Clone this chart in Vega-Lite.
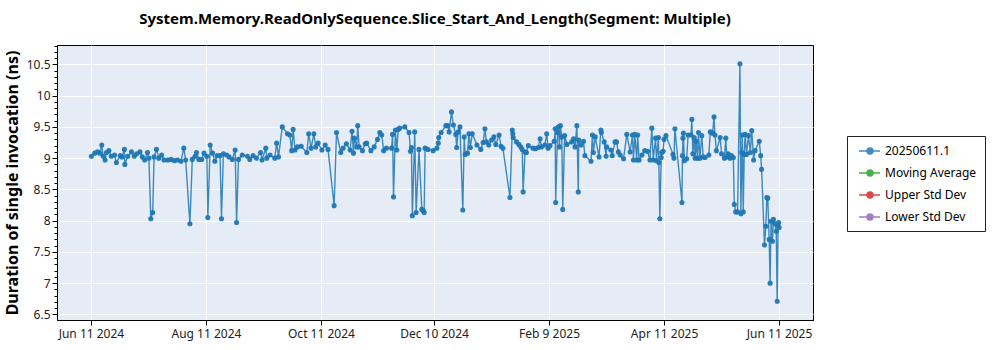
{
  "$schema": "https://vega.github.io/schema/vega-lite/v6.json",
  "width": 756,
  "height": 275,
  "autosize": {"type": "none"},
  "padding": {"left": 57, "top": 45, "right": 187, "bottom": 30},
  "background": "#ffffff",
  "title": {
    "text": "System.Memory.ReadOnlySequence.Slice_Start_And_Length(Segment: Multiple)",
    "anchor": "middle",
    "frame": "group",
    "offset": 18,
    "font": "Noto Sans",
    "fontSize": 15,
    "fontWeight": "bold",
    "color": "#000000"
  },
  "data": {
    "values": [
      {"date": "2024-06-11T06:00Z", "value": 9.03, "series": "20250611.1"},
      {"date": "2024-06-13T00:00Z", "value": 9.08, "series": "20250611.1"},
      {"date": "2024-06-14T12:00Z", "value": 9.10, "series": "20250611.1"},
      {"date": "2024-06-15T18:00Z", "value": 9.08, "series": "20250611.1"},
      {"date": "2024-06-16T18:00Z", "value": 9.21, "series": "20250611.1"},
      {"date": "2024-06-17T12:00Z", "value": 9.03, "series": "20250611.1"},
      {"date": "2024-06-18T12:00Z", "value": 8.97, "series": "20250611.1"},
      {"date": "2024-06-19T06:00Z", "value": 9.09, "series": "20250611.1"},
      {"date": "2024-06-20T12:00Z", "value": 9.12, "series": "20250611.1"},
      {"date": "2024-06-21T18:00Z", "value": 9.03, "series": "20250611.1"},
      {"date": "2024-06-23T12:00Z", "value": 9.05, "series": "20250611.1"},
      {"date": "2024-06-24T12:00Z", "value": 8.93, "series": "20250611.1"},
      {"date": "2024-06-26T12:00Z", "value": 9.04, "series": "20250611.1"},
      {"date": "2024-06-27T12:00Z", "value": 9.02, "series": "20250611.1"},
      {"date": "2024-06-28T18:00Z", "value": 9.14, "series": "20250611.1"},
      {"date": "2024-06-29T00:00Z", "value": 8.90, "series": "20250611.1"},
      {"date": "2024-06-30T12:00Z", "value": 9.03, "series": "20250611.1"},
      {"date": "2024-07-02T12:00Z", "value": 9.10, "series": "20250611.1"},
      {"date": "2024-07-04T00:00Z", "value": 9.03, "series": "20250611.1"},
      {"date": "2024-07-05T06:00Z", "value": 9.07, "series": "20250611.1"},
      {"date": "2024-07-07T00:00Z", "value": 9.10, "series": "20250611.1"},
      {"date": "2024-07-08T06:00Z", "value": 9.02, "series": "20250611.1"},
      {"date": "2024-07-09T12:00Z", "value": 8.97, "series": "20250611.1"},
      {"date": "2024-07-11T00:00Z", "value": 9.09, "series": "20250611.1"},
      {"date": "2024-07-11T18:00Z", "value": 9.00, "series": "20250611.1"},
      {"date": "2024-07-12T18:00Z", "value": 8.03, "series": "20250611.1"},
      {"date": "2024-07-13T18:00Z", "value": 8.13, "series": "20250611.1"},
      {"date": "2024-07-14T12:00Z", "value": 9.02, "series": "20250611.1"},
      {"date": "2024-07-15T18:00Z", "value": 9.14, "series": "20250611.1"},
      {"date": "2024-07-17T00:00Z", "value": 9.00, "series": "20250611.1"},
      {"date": "2024-07-18T12:00Z", "value": 9.05, "series": "20250611.1"},
      {"date": "2024-07-19T18:00Z", "value": 8.97, "series": "20250611.1"},
      {"date": "2024-07-21T18:00Z", "value": 8.97, "series": "20250611.1"},
      {"date": "2024-07-23T12:00Z", "value": 8.98, "series": "20250611.1"},
      {"date": "2024-07-25T06:00Z", "value": 8.96, "series": "20250611.1"},
      {"date": "2024-07-27T00:00Z", "value": 8.97, "series": "20250611.1"},
      {"date": "2024-07-28T18:00Z", "value": 8.95, "series": "20250611.1"},
      {"date": "2024-07-30T06:00Z", "value": 9.16, "series": "20250611.1"},
      {"date": "2024-07-31T06:00Z", "value": 8.97, "series": "20250611.1"},
      {"date": "2024-08-02T12:00Z", "value": 7.95, "series": "20250611.1"},
      {"date": "2024-08-03T18:00Z", "value": 8.98, "series": "20250611.1"},
      {"date": "2024-08-05T06:00Z", "value": 9.03, "series": "20250611.1"},
      {"date": "2024-08-06T00:00Z", "value": 9.09, "series": "20250611.1"},
      {"date": "2024-08-07T06:00Z", "value": 8.98, "series": "20250611.1"},
      {"date": "2024-08-08T18:00Z", "value": 8.98, "series": "20250611.1"},
      {"date": "2024-08-10T00:00Z", "value": 9.08, "series": "20250611.1"},
      {"date": "2024-08-11T12:00Z", "value": 9.03, "series": "20250611.1"},
      {"date": "2024-08-12T00:00Z", "value": 8.05, "series": "20250611.1"},
      {"date": "2024-08-13T06:00Z", "value": 9.21, "series": "20250611.1"},
      {"date": "2024-08-14T12:00Z", "value": 9.08, "series": "20250611.1"},
      {"date": "2024-08-15T18:00Z", "value": 8.95, "series": "20250611.1"},
      {"date": "2024-08-17T00:00Z", "value": 9.04, "series": "20250611.1"},
      {"date": "2024-08-18T12:00Z", "value": 9.04, "series": "20250611.1"},
      {"date": "2024-08-19T06:00Z", "value": 8.03, "series": "20250611.1"},
      {"date": "2024-08-20T06:00Z", "value": 9.07, "series": "20250611.1"},
      {"date": "2024-08-22T00:00Z", "value": 9.05, "series": "20250611.1"},
      {"date": "2024-08-23T06:00Z", "value": 9.02, "series": "20250611.1"},
      {"date": "2024-08-25T00:00Z", "value": 8.98, "series": "20250611.1"},
      {"date": "2024-08-26T12:00Z", "value": 9.13, "series": "20250611.1"},
      {"date": "2024-08-27T06:00Z", "value": 7.97, "series": "20250611.1"},
      {"date": "2024-08-28T06:00Z", "value": 8.98, "series": "20250611.1"},
      {"date": "2024-08-30T06:00Z", "value": 9.05, "series": "20250611.1"},
      {"date": "2024-09-02T00:00Z", "value": 9.03, "series": "20250611.1"},
      {"date": "2024-09-03T06:00Z", "value": 8.98, "series": "20250611.1"},
      {"date": "2024-09-05T00:00Z", "value": 9.04, "series": "20250611.1"},
      {"date": "2024-09-06T18:00Z", "value": 9.00, "series": "20250611.1"},
      {"date": "2024-09-09T00:00Z", "value": 9.09, "series": "20250611.1"},
      {"date": "2024-09-09T18:00Z", "value": 8.97, "series": "20250611.1"},
      {"date": "2024-09-11T18:00Z", "value": 9.16, "series": "20250611.1"},
      {"date": "2024-09-12T06:00Z", "value": 9.00, "series": "20250611.1"},
      {"date": "2024-09-14T00:00Z", "value": 9.05, "series": "20250611.1"},
      {"date": "2024-09-16T12:00Z", "value": 9.00, "series": "20250611.1"},
      {"date": "2024-09-17T12:00Z", "value": 9.24, "series": "20250611.1"},
      {"date": "2024-09-18T12:00Z", "value": 9.02, "series": "20250611.1"},
      {"date": "2024-09-20T12:00Z", "value": 9.50, "series": "20250611.1"},
      {"date": "2024-09-23T06:00Z", "value": 9.39, "series": "20250611.1"},
      {"date": "2024-09-24T12:00Z", "value": 9.37, "series": "20250611.1"},
      {"date": "2024-09-25T12:00Z", "value": 9.12, "series": "20250611.1"},
      {"date": "2024-09-26T06:00Z", "value": 9.46, "series": "20250611.1"},
      {"date": "2024-09-27T06:00Z", "value": 9.13, "series": "20250611.1"},
      {"date": "2024-09-28T12:00Z", "value": 9.18, "series": "20250611.1"},
      {"date": "2024-09-30T12:00Z", "value": 9.19, "series": "20250611.1"},
      {"date": "2024-10-03T12:00Z", "value": 9.09, "series": "20250611.1"},
      {"date": "2024-10-04T12:00Z", "value": 9.39, "series": "20250611.1"},
      {"date": "2024-10-05T18:00Z", "value": 9.16, "series": "20250611.1"},
      {"date": "2024-10-07T06:00Z", "value": 9.39, "series": "20250611.1"},
      {"date": "2024-10-08T06:00Z", "value": 9.18, "series": "20250611.1"},
      {"date": "2024-10-09T12:00Z", "value": 9.24, "series": "20250611.1"},
      {"date": "2024-10-11T12:00Z", "value": 9.13, "series": "20250611.1"},
      {"date": "2024-10-13T06:00Z", "value": 9.21, "series": "20250611.1"},
      {"date": "2024-10-14T18:00Z", "value": 9.14, "series": "20250611.1"},
      {"date": "2024-10-18T00:00Z", "value": 8.24, "series": "20250611.1"},
      {"date": "2024-10-19T06:00Z", "value": 9.41, "series": "20250611.1"},
      {"date": "2024-10-21T12:00Z", "value": 9.09, "series": "20250611.1"},
      {"date": "2024-10-22T18:00Z", "value": 9.16, "series": "20250611.1"},
      {"date": "2024-10-24T12:00Z", "value": 9.23, "series": "20250611.1"},
      {"date": "2024-10-26T12:00Z", "value": 9.13, "series": "20250611.1"},
      {"date": "2024-10-27T12:00Z", "value": 9.43, "series": "20250611.1"},
      {"date": "2024-10-28T06:00Z", "value": 9.08, "series": "20250611.1"},
      {"date": "2024-10-28T18:00Z", "value": 9.32, "series": "20250611.1"},
      {"date": "2024-10-30T00:00Z", "value": 9.18, "series": "20250611.1"},
      {"date": "2024-10-30T12:00Z", "value": 9.52, "series": "20250611.1"},
      {"date": "2024-10-31T06:00Z", "value": 9.18, "series": "20250611.1"},
      {"date": "2024-11-02T00:00Z", "value": 9.12, "series": "20250611.1"},
      {"date": "2024-11-03T12:00Z", "value": 9.23, "series": "20250611.1"},
      {"date": "2024-11-04T06:00Z", "value": 9.24, "series": "20250611.1"},
      {"date": "2024-11-06T12:00Z", "value": 9.12, "series": "20250611.1"},
      {"date": "2024-11-08T06:00Z", "value": 9.18, "series": "20250611.1"},
      {"date": "2024-11-10T00:00Z", "value": 9.30, "series": "20250611.1"},
      {"date": "2024-11-11T06:00Z", "value": 9.41, "series": "20250611.1"},
      {"date": "2024-11-12T06:00Z", "value": 9.37, "series": "20250611.1"},
      {"date": "2024-11-13T06:00Z", "value": 9.12, "series": "20250611.1"},
      {"date": "2024-11-14T18:00Z", "value": 9.16, "series": "20250611.1"},
      {"date": "2024-11-17T12:00Z", "value": 9.16, "series": "20250611.1"},
      {"date": "2024-11-18T00:00Z", "value": 9.38, "series": "20250611.1"},
      {"date": "2024-11-18T12:00Z", "value": 8.38, "series": "20250611.1"},
      {"date": "2024-11-19T12:00Z", "value": 9.45, "series": "20250611.1"},
      {"date": "2024-11-20T06:00Z", "value": 9.13, "series": "20250611.1"},
      {"date": "2024-11-21T00:00Z", "value": 9.46, "series": "20250611.1"},
      {"date": "2024-11-21T18:00Z", "value": 9.48, "series": "20250611.1"},
      {"date": "2024-11-24T12:00Z", "value": 9.50, "series": "20250611.1"},
      {"date": "2024-11-26T18:00Z", "value": 9.41, "series": "20250611.1"},
      {"date": "2024-11-27T12:00Z", "value": 9.11, "series": "20250611.1"},
      {"date": "2024-11-28T00:00Z", "value": 9.17, "series": "20250611.1"},
      {"date": "2024-11-28T12:00Z", "value": 8.08, "series": "20250611.1"},
      {"date": "2024-11-29T18:00Z", "value": 9.42, "series": "20250611.1"},
      {"date": "2024-11-30T12:00Z", "value": 8.13, "series": "20250611.1"},
      {"date": "2024-12-02T00:00Z", "value": 9.14, "series": "20250611.1"},
      {"date": "2024-12-03T12:00Z", "value": 8.18, "series": "20250611.1"},
      {"date": "2024-12-04T06:00Z", "value": 8.16, "series": "20250611.1"},
      {"date": "2024-12-04T18:00Z", "value": 8.13, "series": "20250611.1"},
      {"date": "2024-12-05T06:00Z", "value": 9.16, "series": "20250611.1"},
      {"date": "2024-12-06T18:00Z", "value": 9.14, "series": "20250611.1"},
      {"date": "2024-12-09T12:00Z", "value": 9.12, "series": "20250611.1"},
      {"date": "2024-12-11T12:00Z", "value": 9.16, "series": "20250611.1"},
      {"date": "2024-12-12T06:00Z", "value": 9.24, "series": "20250611.1"},
      {"date": "2024-12-12T12:00Z", "value": 9.33, "series": "20250611.1"},
      {"date": "2024-12-13T18:00Z", "value": 9.41, "series": "20250611.1"},
      {"date": "2024-12-16T06:00Z", "value": 9.52, "series": "20250611.1"},
      {"date": "2024-12-17T06:00Z", "value": 9.52, "series": "20250611.1"},
      {"date": "2024-12-18T00:00Z", "value": 9.42, "series": "20250611.1"},
      {"date": "2024-12-19T06:00Z", "value": 9.74, "series": "20250611.1"},
      {"date": "2024-12-20T06:00Z", "value": 9.53, "series": "20250611.1"},
      {"date": "2024-12-21T12:00Z", "value": 9.38, "series": "20250611.1"},
      {"date": "2024-12-22T00:00Z", "value": 9.17, "series": "20250611.1"},
      {"date": "2024-12-22T18:00Z", "value": 9.42, "series": "20250611.1"},
      {"date": "2024-12-23T18:00Z", "value": 9.50, "series": "20250611.1"},
      {"date": "2024-12-25T06:00Z", "value": 8.17, "series": "20250611.1"},
      {"date": "2024-12-26T00:00Z", "value": 9.34, "series": "20250611.1"},
      {"date": "2024-12-26T12:00Z", "value": 9.06, "series": "20250611.1"},
      {"date": "2024-12-27T18:00Z", "value": 9.08, "series": "20250611.1"},
      {"date": "2024-12-28T12:00Z", "value": 9.39, "series": "20250611.1"},
      {"date": "2024-12-29T06:00Z", "value": 9.17, "series": "20250611.1"},
      {"date": "2024-12-30T06:00Z", "value": 9.39, "series": "20250611.1"},
      {"date": "2025-01-01T18:00Z", "value": 9.21, "series": "20250611.1"},
      {"date": "2025-01-03T18:00Z", "value": 9.14, "series": "20250611.1"},
      {"date": "2025-01-05T00:00Z", "value": 9.25, "series": "20250611.1"},
      {"date": "2025-01-06T00:00Z", "value": 9.47, "series": "20250611.1"},
      {"date": "2025-01-06T18:00Z", "value": 9.26, "series": "20250611.1"},
      {"date": "2025-01-08T00:00Z", "value": 9.21, "series": "20250611.1"},
      {"date": "2025-01-09T12:00Z", "value": 9.29, "series": "20250611.1"},
      {"date": "2025-01-10T18:00Z", "value": 9.34, "series": "20250611.1"},
      {"date": "2025-01-11T18:00Z", "value": 9.22, "series": "20250611.1"},
      {"date": "2025-01-13T12:00Z", "value": 9.37, "series": "20250611.1"},
      {"date": "2025-01-14T12:00Z", "value": 9.19, "series": "20250611.1"},
      {"date": "2025-01-15T12:00Z", "value": 9.16, "series": "20250611.1"},
      {"date": "2025-01-19T06:00Z", "value": 8.37, "series": "20250611.1"},
      {"date": "2025-01-20T12:00Z", "value": 9.45, "series": "20250611.1"},
      {"date": "2025-01-20T18:00Z", "value": 9.39, "series": "20250611.1"},
      {"date": "2025-01-21T00:00Z", "value": 9.33, "series": "20250611.1"},
      {"date": "2025-01-22T18:00Z", "value": 9.26, "series": "20250611.1"},
      {"date": "2025-01-24T00:00Z", "value": 9.22, "series": "20250611.1"},
      {"date": "2025-01-25T00:00Z", "value": 9.18, "series": "20250611.1"},
      {"date": "2025-01-25T18:00Z", "value": 9.14, "series": "20250611.1"},
      {"date": "2025-01-26T06:00Z", "value": 8.46, "series": "20250611.1"},
      {"date": "2025-01-27T06:00Z", "value": 9.10, "series": "20250611.1"},
      {"date": "2025-01-28T00:00Z", "value": 9.09, "series": "20250611.1"},
      {"date": "2025-01-29T00:00Z", "value": 9.20, "series": "20250611.1"},
      {"date": "2025-01-31T12:00Z", "value": 9.16, "series": "20250611.1"},
      {"date": "2025-02-01T18:00Z", "value": 9.15, "series": "20250611.1"},
      {"date": "2025-02-03T06:00Z", "value": 9.17, "series": "20250611.1"},
      {"date": "2025-02-04T06:00Z", "value": 9.31, "series": "20250611.1"},
      {"date": "2025-02-05T00:00Z", "value": 9.18, "series": "20250611.1"},
      {"date": "2025-02-06T18:00Z", "value": 9.21, "series": "20250611.1"},
      {"date": "2025-02-07T18:00Z", "value": 9.39, "series": "20250611.1"},
      {"date": "2025-02-08T12:00Z", "value": 9.16, "series": "20250611.1"},
      {"date": "2025-02-09T12:00Z", "value": 9.20, "series": "20250611.1"},
      {"date": "2025-02-11T18:00Z", "value": 9.27, "series": "20250611.1"},
      {"date": "2025-02-12T06:00Z", "value": 9.47, "series": "20250611.1"},
      {"date": "2025-02-12T12:00Z", "value": 8.29, "series": "20250611.1"},
      {"date": "2025-02-13T12:00Z", "value": 9.41, "series": "20250611.1"},
      {"date": "2025-02-14T00:00Z", "value": 9.50, "series": "20250611.1"},
      {"date": "2025-02-14T12:00Z", "value": 9.18, "series": "20250611.1"},
      {"date": "2025-02-15T00:00Z", "value": 9.52, "series": "20250611.1"},
      {"date": "2025-02-15T18:00Z", "value": 9.34, "series": "20250611.1"},
      {"date": "2025-02-16T06:00Z", "value": 8.18, "series": "20250611.1"},
      {"date": "2025-02-17T06:00Z", "value": 9.36, "series": "20250611.1"},
      {"date": "2025-02-18T12:00Z", "value": 9.22, "series": "20250611.1"},
      {"date": "2025-02-21T00:00Z", "value": 9.26, "series": "20250611.1"},
      {"date": "2025-02-22T00:00Z", "value": 9.31, "series": "20250611.1"},
      {"date": "2025-02-22T18:00Z", "value": 9.18, "series": "20250611.1"},
      {"date": "2025-02-23T18:00Z", "value": 9.52, "series": "20250611.1"},
      {"date": "2025-02-24T12:00Z", "value": 8.46, "series": "20250611.1"},
      {"date": "2025-02-24T18:00Z", "value": 9.29, "series": "20250611.1"},
      {"date": "2025-02-26T00:00Z", "value": 9.21, "series": "20250611.1"},
      {"date": "2025-02-27T06:00Z", "value": 9.27, "series": "20250611.1"},
      {"date": "2025-02-28T00:00Z", "value": 9.04, "series": "20250611.1"},
      {"date": "2025-03-03T06:00Z", "value": 8.95, "series": "20250611.1"},
      {"date": "2025-03-04T00:00Z", "value": 9.37, "series": "20250611.1"},
      {"date": "2025-03-04T12:00Z", "value": 9.09, "series": "20250611.1"},
      {"date": "2025-03-05T12:00Z", "value": 9.34, "series": "20250611.1"},
      {"date": "2025-03-07T12:00Z", "value": 9.02, "series": "20250611.1"},
      {"date": "2025-03-08T12:00Z", "value": 9.45, "series": "20250611.1"},
      {"date": "2025-03-08T18:00Z", "value": 9.41, "series": "20250611.1"},
      {"date": "2025-03-10T06:00Z", "value": 9.26, "series": "20250611.1"},
      {"date": "2025-03-11T06:00Z", "value": 9.03, "series": "20250611.1"},
      {"date": "2025-03-11T12:00Z", "value": 9.18, "series": "20250611.1"},
      {"date": "2025-03-13T18:00Z", "value": 9.13, "series": "20250611.1"},
      {"date": "2025-03-14T12:00Z", "value": 9.04, "series": "20250611.1"},
      {"date": "2025-03-16T00:00Z", "value": 9.26, "series": "20250611.1"},
      {"date": "2025-03-16T18:00Z", "value": 9.26, "series": "20250611.1"},
      {"date": "2025-03-17T18:00Z", "value": 9.10, "series": "20250611.1"},
      {"date": "2025-03-18T18:00Z", "value": 9.05, "series": "20250611.1"},
      {"date": "2025-03-20T12:00Z", "value": 8.99, "series": "20250611.1"},
      {"date": "2025-03-22T06:00Z", "value": 9.38, "series": "20250611.1"},
      {"date": "2025-03-24T00:00Z", "value": 9.10, "series": "20250611.1"},
      {"date": "2025-03-25T06:00Z", "value": 9.37, "series": "20250611.1"},
      {"date": "2025-03-25T18:00Z", "value": 8.97, "series": "20250611.1"},
      {"date": "2025-03-26T12:00Z", "value": 9.38, "series": "20250611.1"},
      {"date": "2025-03-27T12:00Z", "value": 8.97, "series": "20250611.1"},
      {"date": "2025-03-28T00:00Z", "value": 9.37, "series": "20250611.1"},
      {"date": "2025-03-28T18:00Z", "value": 8.97, "series": "20250611.1"},
      {"date": "2025-03-30T06:00Z", "value": 9.05, "series": "20250611.1"},
      {"date": "2025-03-31T18:00Z", "value": 9.12, "series": "20250611.1"},
      {"date": "2025-04-02T06:00Z", "value": 9.11, "series": "20250611.1"},
      {"date": "2025-04-03T12:00Z", "value": 8.97, "series": "20250611.1"},
      {"date": "2025-04-04T12:00Z", "value": 9.48, "series": "20250611.1"},
      {"date": "2025-04-05T06:00Z", "value": 8.97, "series": "20250611.1"},
      {"date": "2025-04-06T12:00Z", "value": 9.32, "series": "20250611.1"},
      {"date": "2025-04-07T00:00Z", "value": 8.96, "series": "20250611.1"},
      {"date": "2025-04-08T00:00Z", "value": 9.33, "series": "20250611.1"},
      {"date": "2025-04-08T06:00Z", "value": 8.93, "series": "20250611.1"},
      {"date": "2025-04-08T18:00Z", "value": 8.03, "series": "20250611.1"},
      {"date": "2025-04-09T12:00Z", "value": 9.01, "series": "20250611.1"},
      {"date": "2025-04-09T18:00Z", "value": 9.09, "series": "20250611.1"},
      {"date": "2025-04-10T12:00Z", "value": 9.11, "series": "20250611.1"},
      {"date": "2025-04-11T00:00Z", "value": 9.30, "series": "20250611.1"},
      {"date": "2025-04-12T00:00Z", "value": 9.36, "series": "20250611.1"},
      {"date": "2025-04-15T18:00Z", "value": 9.06, "series": "20250611.1"},
      {"date": "2025-04-16T06:00Z", "value": 9.00, "series": "20250611.1"},
      {"date": "2025-04-16T18:00Z", "value": 9.47, "series": "20250611.1"},
      {"date": "2025-04-20T12:00Z", "value": 8.29, "series": "20250611.1"},
      {"date": "2025-04-20T18:00Z", "value": 9.04, "series": "20250611.1"},
      {"date": "2025-04-21T00:00Z", "value": 9.32, "series": "20250611.1"},
      {"date": "2025-04-21T06:00Z", "value": 9.40, "series": "20250611.1"},
      {"date": "2025-04-21T18:00Z", "value": 8.96, "series": "20250611.1"},
      {"date": "2025-04-23T00:00Z", "value": 8.99, "series": "20250611.1"},
      {"date": "2025-04-23T18:00Z", "value": 9.37, "series": "20250611.1"},
      {"date": "2025-04-25T06:00Z", "value": 9.37, "series": "20250611.1"},
      {"date": "2025-04-25T18:00Z", "value": 9.62, "series": "20250611.1"},
      {"date": "2025-04-26T06:00Z", "value": 9.07, "series": "20250611.1"},
      {"date": "2025-04-27T00:00Z", "value": 9.33, "series": "20250611.1"},
      {"date": "2025-04-27T12:00Z", "value": 9.00, "series": "20250611.1"},
      {"date": "2025-04-28T00:00Z", "value": 9.27, "series": "20250611.1"},
      {"date": "2025-04-28T18:00Z", "value": 9.00, "series": "20250611.1"},
      {"date": "2025-04-29T06:00Z", "value": 9.41, "series": "20250611.1"},
      {"date": "2025-04-30T00:00Z", "value": 9.00, "series": "20250611.1"},
      {"date": "2025-05-01T00:00Z", "value": 9.36, "series": "20250611.1"},
      {"date": "2025-05-01T18:00Z", "value": 9.02, "series": "20250611.1"},
      {"date": "2025-05-02T18:00Z", "value": 9.01, "series": "20250611.1"},
      {"date": "2025-05-04T18:00Z", "value": 9.05, "series": "20250611.1"},
      {"date": "2025-05-05T12:00Z", "value": 9.42, "series": "20250611.1"},
      {"date": "2025-05-06T18:00Z", "value": 9.40, "series": "20250611.1"},
      {"date": "2025-05-07T12:00Z", "value": 9.66, "series": "20250611.1"},
      {"date": "2025-05-08T00:00Z", "value": 9.37, "series": "20250611.1"},
      {"date": "2025-05-08T18:00Z", "value": 9.12, "series": "20250611.1"},
      {"date": "2025-05-10T18:00Z", "value": 9.33, "series": "20250611.1"},
      {"date": "2025-05-11T12:00Z", "value": 9.07, "series": "20250611.1"},
      {"date": "2025-05-13T00:00Z", "value": 9.00, "series": "20250611.1"},
      {"date": "2025-05-13T18:00Z", "value": 9.32, "series": "20250611.1"},
      {"date": "2025-05-14T06:00Z", "value": 9.02, "series": "20250611.1"},
      {"date": "2025-05-15T00:00Z", "value": 9.07, "series": "20250611.1"},
      {"date": "2025-05-16T00:00Z", "value": 9.00, "series": "20250611.1"},
      {"date": "2025-05-16T18:00Z", "value": 9.04, "series": "20250611.1"},
      {"date": "2025-05-17T18:00Z", "value": 9.01, "series": "20250611.1"},
      {"date": "2025-05-18T06:00Z", "value": 8.26, "series": "20250611.1"},
      {"date": "2025-05-19T00:00Z", "value": 8.14, "series": "20250611.1"},
      {"date": "2025-05-20T00:00Z", "value": 8.14, "series": "20250611.1"},
      {"date": "2025-05-21T06:00Z", "value": 10.51, "series": "20250611.1"},
      {"date": "2025-05-21T18:00Z", "value": 8.11, "series": "20250611.1"},
      {"date": "2025-05-22T06:00Z", "value": 9.09, "series": "20250611.1"},
      {"date": "2025-05-22T12:00Z", "value": 9.37, "series": "20250611.1"},
      {"date": "2025-05-23T00:00Z", "value": 8.14, "series": "20250611.1"},
      {"date": "2025-05-23T12:00Z", "value": 9.06, "series": "20250611.1"},
      {"date": "2025-05-24T00:00Z", "value": 9.38, "series": "20250611.1"},
      {"date": "2025-05-24T18:00Z", "value": 9.06, "series": "20250611.1"},
      {"date": "2025-05-25T18:00Z", "value": 9.36, "series": "20250611.1"},
      {"date": "2025-05-26T18:00Z", "value": 9.09, "series": "20250611.1"},
      {"date": "2025-05-27T12:00Z", "value": 9.44, "series": "20250611.1"},
      {"date": "2025-05-28T12:00Z", "value": 8.97, "series": "20250611.1"},
      {"date": "2025-05-29T06:00Z", "value": 9.12, "series": "20250611.1"},
      {"date": "2025-05-31T12:00Z", "value": 9.27, "series": "20250611.1"},
      {"date": "2025-06-01T06:00Z", "value": 9.04, "series": "20250611.1"},
      {"date": "2025-06-01T18:00Z", "value": 8.82, "series": "20250611.1"},
      {"date": "2025-06-03T06:00Z", "value": 7.61, "series": "20250611.1"},
      {"date": "2025-06-04T00:00Z", "value": 7.91, "series": "20250611.1"},
      {"date": "2025-06-04T12:00Z", "value": 8.37, "series": "20250611.1"},
      {"date": "2025-06-05T00:00Z", "value": 8.36, "series": "20250611.1"},
      {"date": "2025-06-05T18:00Z", "value": 7.70, "series": "20250611.1"},
      {"date": "2025-06-06T06:00Z", "value": 7.00, "series": "20250611.1"},
      {"date": "2025-06-06T18:00Z", "value": 7.99, "series": "20250611.1"},
      {"date": "2025-06-07T12:00Z", "value": 7.67, "series": "20250611.1"},
      {"date": "2025-06-08T00:00Z", "value": 8.02, "series": "20250611.1"},
      {"date": "2025-06-08T18:00Z", "value": 7.95, "series": "20250611.1"},
      {"date": "2025-06-09T12:00Z", "value": 7.83, "series": "20250611.1"},
      {"date": "2025-06-10T00:00Z", "value": 6.71, "series": "20250611.1"},
      {"date": "2025-06-10T12:00Z", "value": 7.91, "series": "20250611.1"},
      {"date": "2025-06-10T18:00Z", "value": 7.97, "series": "20250611.1"},
      {"date": "2025-06-11T00:00Z", "value": 7.89, "series": "20250611.1"}
    ]
  },
  "layer": [
    {
      "mark": {
        "type": "line",
        "strokeWidth": 1.4,
        "opacity": 0.85,
        "point": {"filled": true, "size": 26, "opacity": 0.95}
      },
      "encoding": {
        "x": {
          "field": "date",
          "type": "temporal",
          "title": null,
          "scale": {
            "type": "utc",
            "domain": [
              {"year": 2024, "month": "may", "date": 24, "utc": true},
              {"year": 2025, "month": "jun", "date": 29, "utc": true}
            ]
          },
          "axis": {
            "values": [
              {"year": 2024, "month": "jun", "date": 11, "utc": true},
              {"year": 2024, "month": "aug", "date": 11, "utc": true},
              {"year": 2024, "month": "oct", "date": 11, "utc": true},
              {"year": 2024, "month": "dec", "date": 10, "utc": true},
              {"year": 2025, "month": "feb", "date": 9, "utc": true},
              {"year": 2025, "month": "apr", "date": 11, "utc": true},
              {"year": 2025, "month": "jun", "date": 11, "utc": true}
            ],
            "format": "%b %-d %Y",
            "labelAngle": 0,
            "labelPadding": 3
          }
        },
        "y": {
          "field": "value",
          "type": "quantitative",
          "title": "Duration of single invocation (ns)",
          "scale": {"domain": [6.41, 10.81], "nice": false, "zero": false},
          "axis": {
            "orient": "left",
            "grid": true,
            "values": [6.5, 7, 7.5, 8, 8.5, 9, 9.5, 10, 10.5],
            "format": "~g",
            "titleX": -37,
            "titleY": 137.5,
            "titleFontSize": 16,
            "titleFontWeight": "bold",
            "titleColor": "#000000"
          }
        },
        "color": {
          "field": "series",
          "type": "nominal",
          "scale": {
            "domain": ["20250611.1", "Moving Average", "Upper Std Dev", "Lower Std Dev"],
            "range": ["#1f77b4", "#2ca02c", "#d62728", "#9467bd"]
          },
          "legend": {
            "title": null,
            "orient": "none",
            "legendX": 790,
            "legendY": 91,
            "strokeColor": "#222222",
            "fillColor": "#ffffff",
            "padding": 8,
            "labelFont": "Noto Sans",
            "labelFontSize": 12,
            "labelColor": "#000000",
            "labelOffset": 16,
            "rowPadding": 9,
            "symbolType": "M-0.5,0H3M1.83,0A0.5,0.5,0,1,1,0.83,0A0.5,0.5,0,1,1,1.83,0Z",
            "symbolSize": 144,
            "symbolStrokeWidth": 1.4,
            "encode": {
              "symbols": {
                "update": {
                  "fill": {"scale": "color", "field": "value"},
                  "fillOpacity": {"value": 1},
                  "stroke": {"scale": "color", "field": "value"},
                  "opacity": {"value": 1}
                }
              }
            }
          }
        }
      }
    },
    {
      "mark": {"type": "point", "opacity": 0},
      "encoding": {
        "x": {"field": "date", "type": "temporal"},
        "y": {
          "field": "value",
          "type": "quantitative",
          "title": null,
          "axis": {
            "orient": "left",
            "values": [6.5, 6.6, 6.7, 6.8, 6.9, 7, 7.1, 7.2, 7.3, 7.4, 7.5, 7.6, 7.7, 7.8, 7.9, 8, 8.1, 8.2, 8.3, 8.4, 8.5, 8.6, 8.7, 8.8, 8.9, 9, 9.1, 9.2, 9.3, 9.4, 9.5, 9.6, 9.7, 9.8, 9.9, 10, 10.1, 10.2, 10.3, 10.4, 10.5, 10.6, 10.7, 10.8],
            "labels": false,
            "grid": false,
            "domain": false,
            "tickSize": 3,
            "zindex": 1
          }
        }
      }
    }
  ],
  "resolve": {"axis": {"y": "independent"}},
  "config": {
    "view": {"fill": "#e5ecf6", "stroke": "#000000", "strokeWidth": 1},
    "axis": {
      "grid": true,
      "gridColor": "#ffffff",
      "gridWidth": 1,
      "gridOpacity": 1,
      "domain": true,
      "domainColor": "#000000",
      "domainWidth": 1,
      "tickColor": "#000000",
      "tickSize": 5,
      "labelFont": "Noto Sans",
      "labelFontSize": 12,
      "labelColor": "#222222",
      "titleFont": "Noto Sans"
    }
  }
}
